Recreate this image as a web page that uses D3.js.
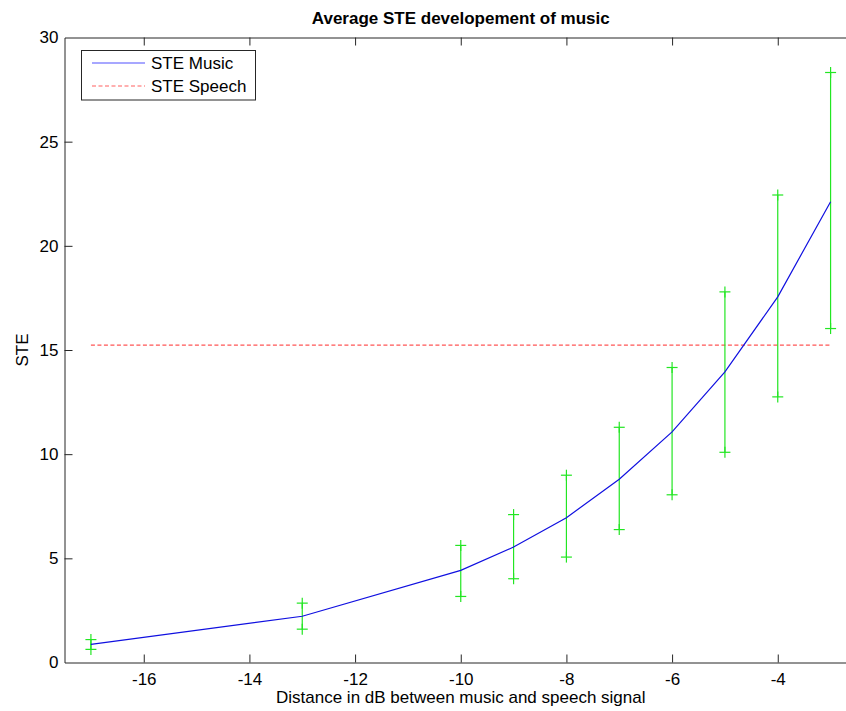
<!DOCTYPE html>
<html>
<head>
<meta charset="utf-8">
<script src="https://cdn.jsdelivr.net/npm/d3@7"></script>
<style>
body { margin: 0; background: #fff; }
text { font-family: Arial, "Liberation Sans", Helvetica, sans-serif; }
</style>
</head>
<body>
<svg id="chart" width="846" height="711"></svg>
<script>
// ---- data ----
const distances = [-17, -13, -10, -9, -8, -7, -6, -5, -4, -3];
const steMusic  = [0.87, 2.22, 4.42, 5.54, 6.95, 8.80, 11.07, 13.95, 17.55, 22.12];
const errUpper  = [1.10, 2.85, 5.62, 7.10, 8.99, 11.29, 14.16, 17.79, 22.44, 28.32];
const errLower  = [0.63, 1.60, 3.17, 4.02, 5.06, 6.38, 8.05, 10.09, 12.75, 16.03];
const steSpeech = 15.23;
const speechRange = [-17, -3];
const xTicks = [-16, -14, -12, -10, -8, -6, -4];
const yTicks = [0, 5, 10, 15, 20, 25, 30];
const legendLabels = ["STE Music", "STE Speech"];

const svg = d3.select("#chart");
const mLeft = 64.5, mRight = 857, mTop = 37.5, mBottom = 662.5;

const x = d3.scaleLinear().domain([-17.5, -2.5]).range([mLeft, mRight]);
const y = d3.scaleLinear().domain([0, 30]).range([mBottom, mTop]);

const axisColor = "#262626";
const tickLen = 8;
const fs = "17px";
const plain = d => String(d);

// axes
const gx = svg.append("g").attr("transform", `translate(0,${mBottom})`)
  .call(d3.axisBottom(x).tickValues(xTicks).tickSizeInner(-tickLen).tickSizeOuter(0).tickPadding(10).tickFormat(plain));
const gxTop = svg.append("g").attr("transform", `translate(0,${mTop})`)
  .call(d3.axisTop(x).tickValues(xTicks).tickSizeInner(-tickLen).tickSizeOuter(0).tickFormat(""));
const gy = svg.append("g").attr("transform", `translate(${mLeft},0)`)
  .call(d3.axisLeft(y).tickValues(yTicks).tickSizeInner(-tickLen).tickSizeOuter(0).tickPadding(6).tickFormat(plain));
const gyR = svg.append("g").attr("transform", `translate(${mRight},0)`)
  .call(d3.axisRight(y).tickValues(yTicks).tickSizeInner(-tickLen).tickSizeOuter(0).tickFormat(""));

[gx, gxTop, gy, gyR].forEach(g => {
  g.select(".domain").attr("stroke", axisColor).attr("stroke-width", 1);
  g.selectAll(".tick line").attr("stroke", axisColor);
  g.selectAll(".tick text").attr("fill", "#000").style("font-size", fs).style("font-family", "Arial, 'Liberation Sans', sans-serif");
});
gx.selectAll(".tick text").attr("dy", "0.71em");
gy.selectAll(".tick line").filter(d => d === 0 || d === 30).remove();

// speech line
svg.append("line")
  .attr("x1", x(speechRange[0])).attr("x2", x(speechRange[1]))
  .attr("y1", y(steSpeech)).attr("y2", y(steSpeech))
  .attr("stroke", "#ff5555").attr("stroke-width", 1.2).attr("stroke-dasharray", "4,2.5");

// error bars
const green = "#22e622";
const cap = 5.5;
const eb = svg.append("g").attr("stroke", green).attr("stroke-width", 1.2).attr("fill", "none");
distances.forEach((d, i) => {
  const cx = x(d);
  eb.append("line").attr("x1", cx).attr("x2", cx).attr("y1", y(errUpper[i])).attr("y2", y(errLower[i]));
  [errUpper[i], errLower[i]].forEach(v => {
    const cy = y(v);
    eb.append("line").attr("x1", cx - cap).attr("x2", cx + cap).attr("y1", cy).attr("y2", cy);
    eb.append("line").attr("x1", cx).attr("x2", cx).attr("y1", cy - cap).attr("y2", cy + cap);
  });
});

// music line
const line = d3.line().x((d, i) => x(distances[i])).y(d => y(d));
svg.append("path").datum(steMusic).attr("d", line)
  .attr("fill", "none").attr("stroke", "#1010e0").attr("stroke-width", 1.2);

// title & labels
svg.append("text").attr("x", (mLeft + mRight) / 2).attr("y", 24).attr("text-anchor", "middle")
  .style("font-size", "17px").style("font-weight", "bold").text("Average STE developement of music");
svg.append("text").attr("x", (mLeft + mRight) / 2).attr("y", 703).attr("text-anchor", "middle")
  .style("font-size", fs).text("Distance in dB between music and speech signal");
svg.append("text").attr("transform", `translate(28,350) rotate(-90)`).attr("text-anchor", "middle")
  .style("font-size", fs).text("STE");

// legend
const lg = svg.append("g");
lg.append("rect").attr("x", 81.5).attr("y", 50.5).attr("width", 174).attr("height", 49.5)
  .attr("fill", "#fff").attr("stroke", axisColor).attr("stroke-width", 1);
const legendStyles = [
  {stroke: "#5050ff", dash: null},
  {stroke: "#ff6060", dash: "4,2.5"}
];
legendLabels.forEach((lab, i) => {
  const yy = 63 + i * 23;
  lg.append("line").attr("x1", 92).attr("x2", 145).attr("y1", yy).attr("y2", yy)
    .attr("stroke", legendStyles[i].stroke).attr("stroke-width", 1.2)
    .attr("stroke-dasharray", legendStyles[i].dash);
  lg.append("text").attr("x", 151).attr("y", yy + 6).style("font-size", fs).text(lab);
});
</script>
</body>
</html>
